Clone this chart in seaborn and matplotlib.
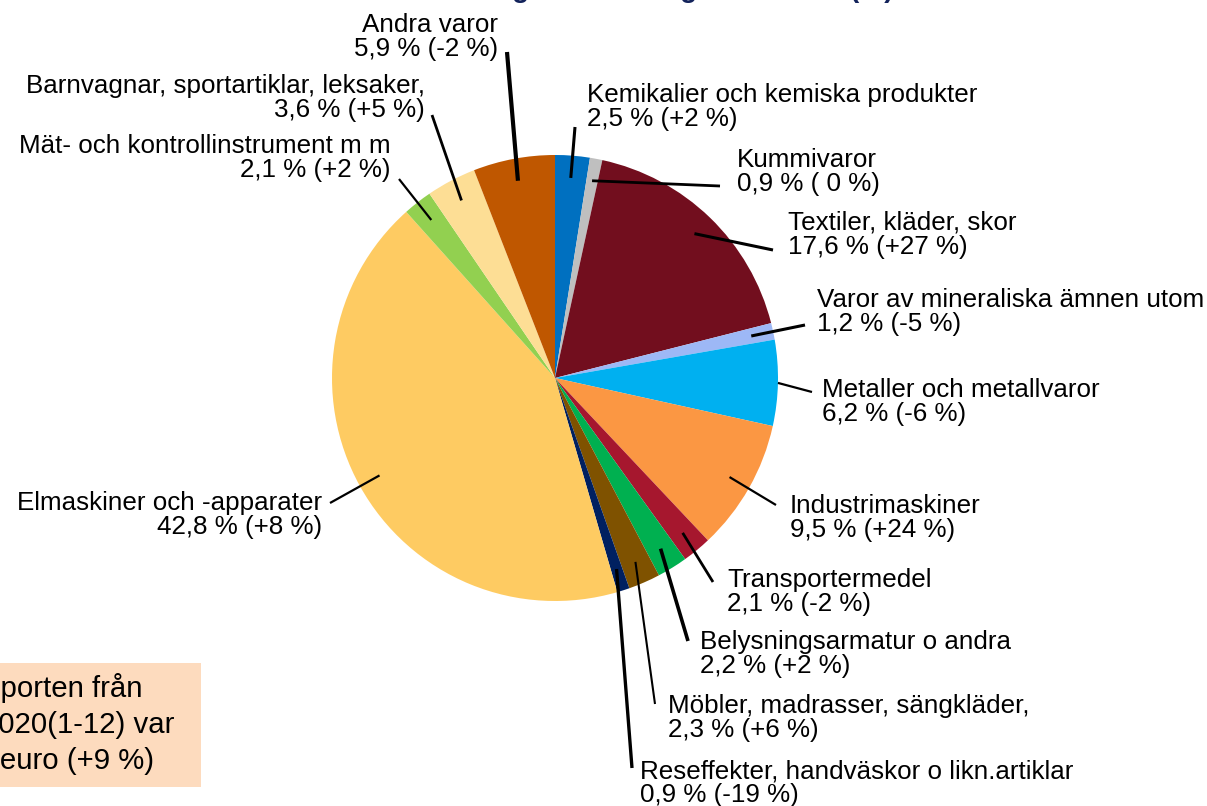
import matplotlib
matplotlib.use("Agg")
import matplotlib.pyplot as plt
from matplotlib.patches import Rectangle
import numpy as np
import seaborn as sns

# Import from China by commodity group, share of total and change vs previous year
categories = [
    "Kemikalier och kemiska produkter",
    "Kummivaror",
    "Textiler, kläder, skor",
    "Varor av mineraliska ämnen utom",
    "Metaller och metallvaror",
    "Industrimaskiner",
    "Transportermedel",
    "Belysningsarmatur o andra",
    "Möbler, madrasser, sängkläder,",
    "Reseffekter, handväskor o likn.artiklar",
    "Elmaskiner och -apparater",
    "Mät- och kontrollinstrument m m",
    "Barnvagnar, sportartiklar, leksaker,",
    "Andra varor",
]
shares = [2.5, 0.9, 17.6, 1.2, 6.2, 9.5, 2.1, 2.2, 2.3, 0.9, 42.8, 2.1, 3.6, 5.9]
changes = ["+2 %", " 0 %", "+27 %", "-5 %", "-6 %", "+24 %", "-2 %",
           "+2 %", "+6 %", "-19 %", "+8 %", "+2 %", "+5 %", "-2 %"]
colors = ["#0070C0", "#BFBFBF", "#720E1E", "#9DB8F6", "#00B0F0", "#FB9743",
          "#A6172E", "#00B050", "#7F5200", "#002060", "#FECB62", "#92D050",
          "#FDDE95", "#BF5700"]

title = "Kina: fördelning och ändring helår 2020 (%)"
box_lines = ["Importen från", "Kina 2020(1-12) var", "5,2 md euro (+9 %)"]

W, H = 1207, 806
CX, CY, R = 555, 378, 223

# label layout in pixels: anchor x, alignment, first baseline, leader end, leader start radius, line width
label_x = [587, 737, 788, 817, 822, 790, 727, 700, 668, 640, 322, 391, 425, 498]
label_ha = ["left"] * 10 + ["right"] * 4
label_base = [102, 167, 230, 307, 397, 513, 587, 649, 713, 778, 510, 153, 93, 32]
leader_end = [(575, 127), (720, 186), (773, 250), (805, 325), (812, 392),
              (776, 505), (713, 582), (688, 641), (655, 704), (632, 768),
              (330, 503), (399, 179), (432, 115), (507, 52)]
leader_r = [0.9, 0.9, 0.9, 0.9, 1.0, 0.9, 0.9, 0.9, 0.9, 0.9, 0.9, 0.9, 0.9, 0.9]
leader_lw = [2.2, 2.0, 2.2, 2.2, 1.6, 1.6, 2.0, 2.6, 1.5, 2.4, 1.6, 1.6, 2.0, 3.0]
LINE_GAP = 24

sns.set_theme(style="white")
plt.rcParams["font.family"] = ["Liberation Sans", "DejaVu Sans"]

fig = plt.figure(figsize=(W / 100, H / 100), dpi=100)
fig.patch.set_facecolor("white")
ax = fig.add_axes([(CX - R) / W, (H - CY - R) / H, 2 * R / W, 2 * R / H])

wedges, _ = ax.pie(shares, colors=sns.color_palette(colors), startangle=90,
                   counterclock=False, radius=1,
                   wedgeprops=dict(linewidth=0, antialiased=True))
ax.set_xlim(-1, 1)
ax.set_ylim(-1, 1)
ax.set_aspect("equal")
ax.axis("off")


def fig_xy(px, py):
    return px / W, 1 - py / H


to_data = ax.transData.inverted()
label_fs = 18.7

for i, w in enumerate(wedges):
    mid = np.deg2rad((w.theta1 + w.theta2) / 2)
    x0, y0 = leader_r[i] * np.cos(mid), leader_r[i] * np.sin(mid)
    ex, ey = leader_end[i]
    x1, y1 = to_data.transform((ex, H - ey))
    ax.plot([x0, x1], [y0, y1], color="black", lw=leader_lw[i],
            solid_capstyle="butt", clip_on=False, zorder=5)

    value = f"{shares[i]:.1f}".replace(".", ",") + f" % ({changes[i]})"
    b1 = label_base[i]
    for k, line in enumerate([categories[i], value]):
        fx, fy = fig_xy(label_x[i], b1 + k * LINE_GAP)
        fig.text(fx, fy, line, ha=label_ha[i], va="baseline",
                 fontsize=label_fs, color="black")

# title
fig.text(0.5, 1 + 3 / H, title, ha="center", va="baseline", fontsize=20.2,
         weight="bold", color="#13235B")

# summary box
bx0, by0 = fig_xy(-100, 787)
fig.patches.append(Rectangle((bx0, by0), 301 / W, 124 / H, transform=fig.transFigure,
                             facecolor="#FDDBBE", edgecolor="none", zorder=0))
box_right = [143, 174, 154]
box_base = [697, 733, 769]
for line, rx, by in zip(box_lines, box_right, box_base):
    fx, fy = fig_xy(rx, by)
    fig.text(fx, fy, line, ha="right", va="baseline", fontsize=21.2, color="black")

fig.savefig("out.png", dpi=100)
